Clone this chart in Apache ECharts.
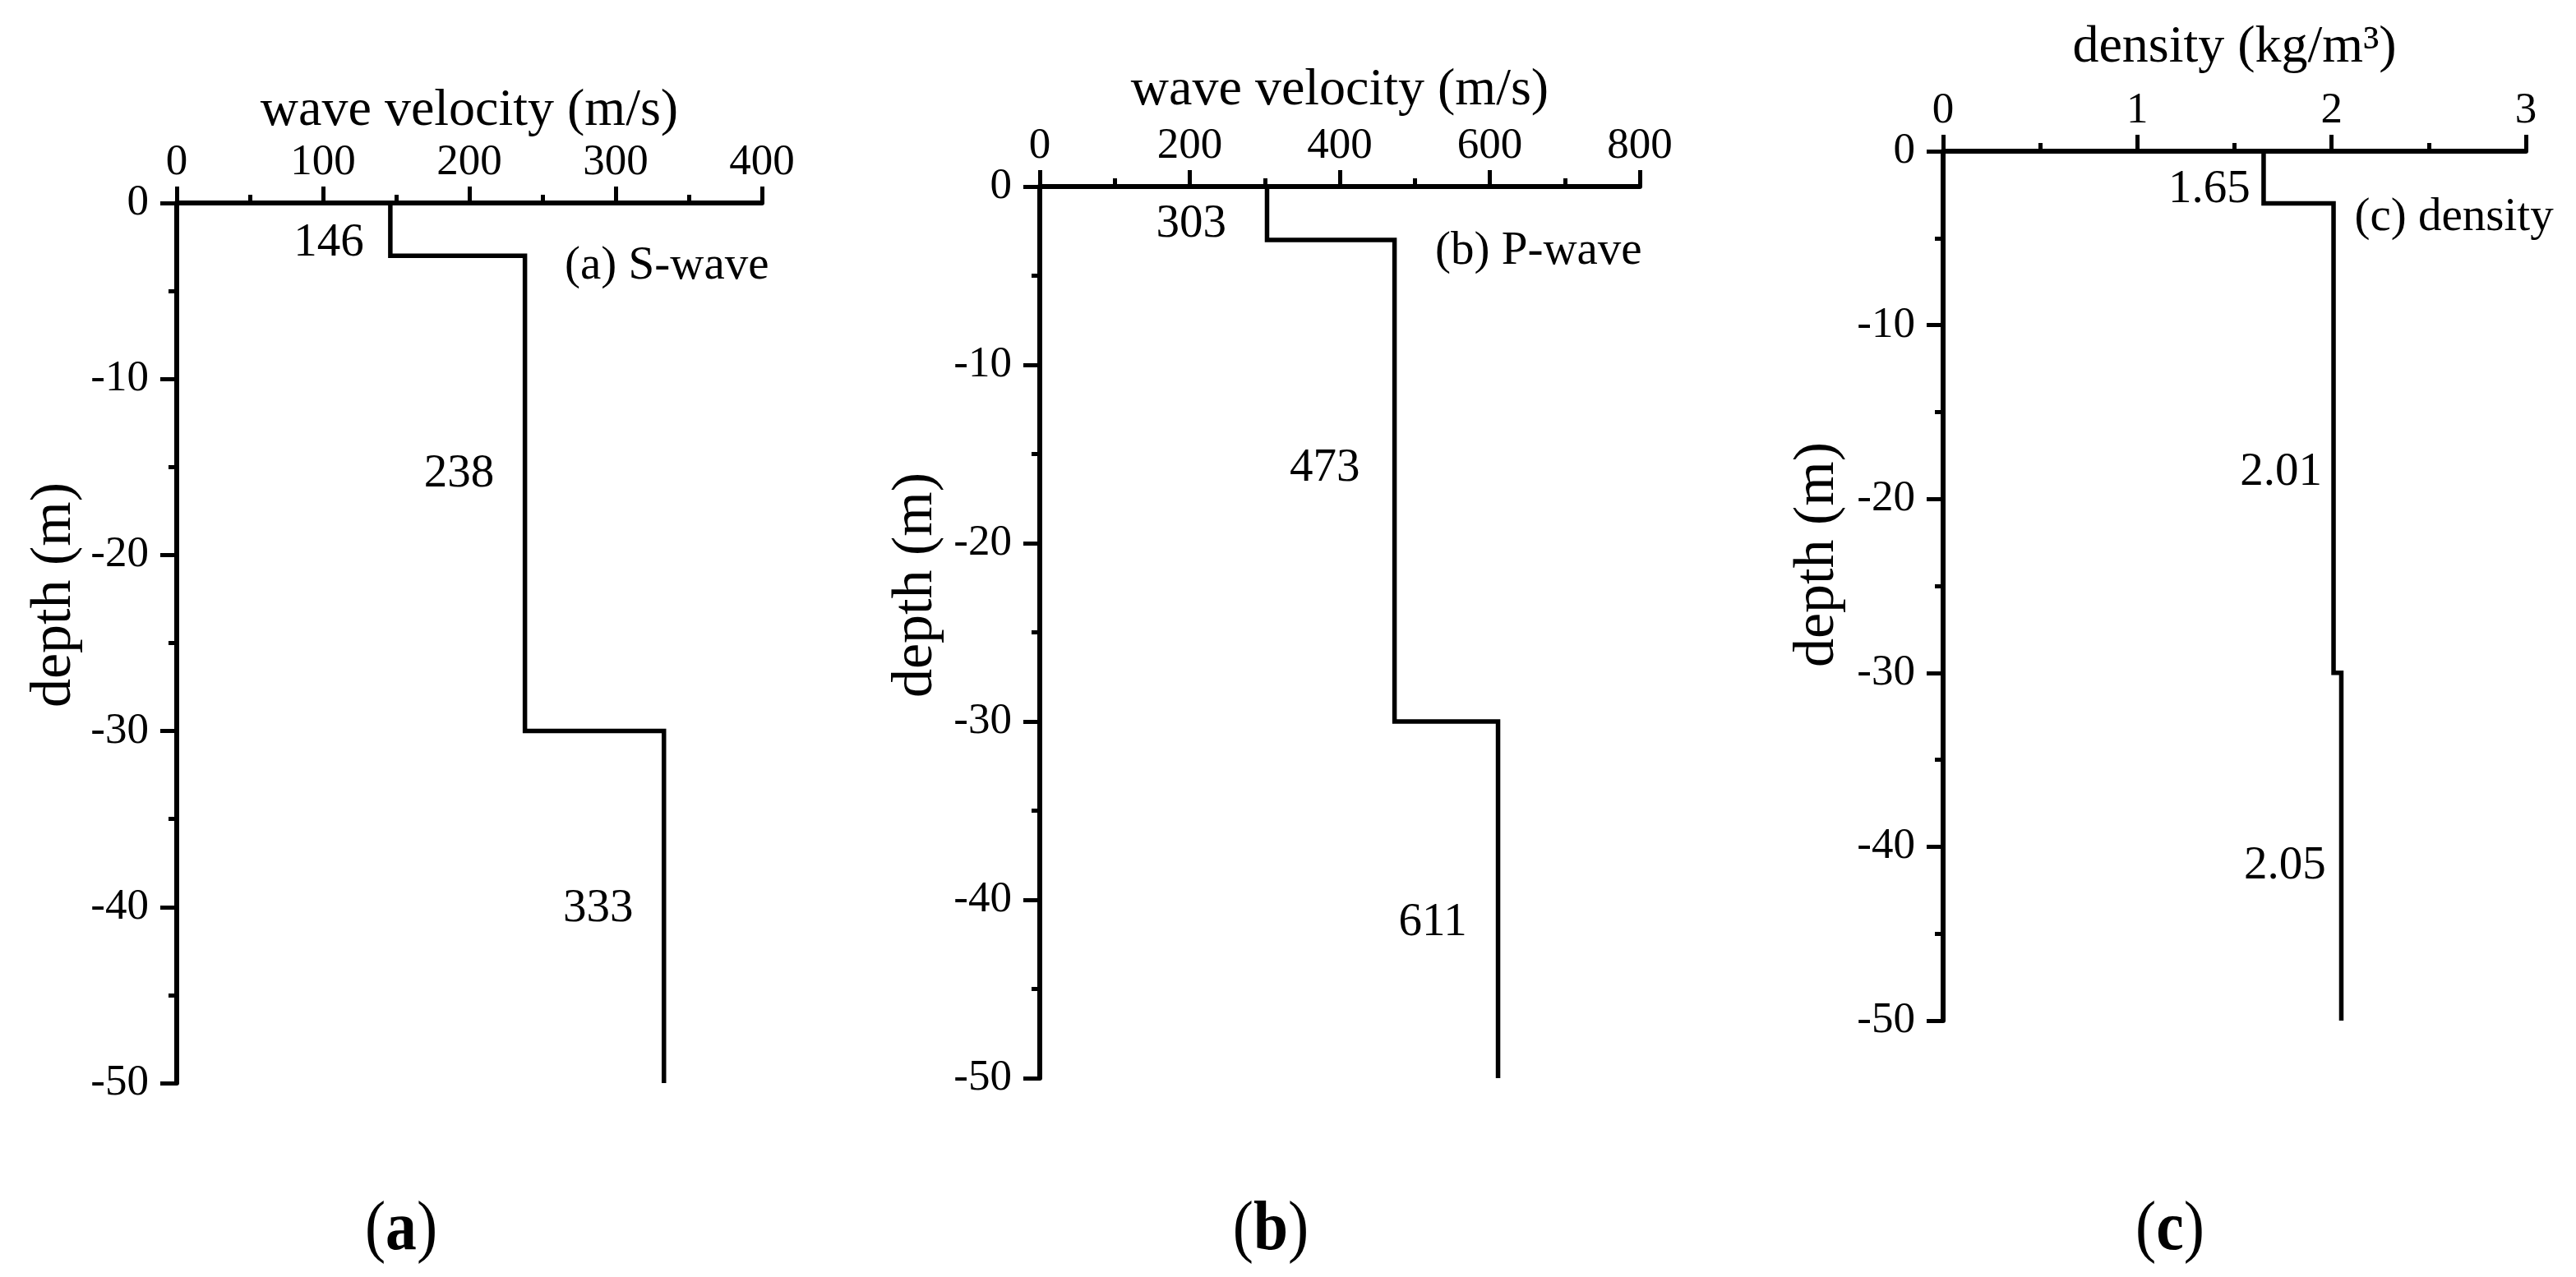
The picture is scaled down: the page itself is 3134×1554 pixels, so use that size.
<!DOCTYPE html>
<html><head><meta charset="utf-8">
<script src="https://cdn.jsdelivr.net/npm/echarts@6/dist/echarts.min.js"></script>
<style>html,body{margin:0;padding:0;background:#fff}#c{width:3134px;height:1554px}</style>
</head><body><div id="c"></div>
<script>
// ---- data ----
const layerTop = [0, -3, -30];
const layerBottom = [-3, -30, -50];
const sWave = [146, 238, 333];
const pWave = [303, 473, 611];
const density = [1.65, 2.01, 2.05];
const captions = ['(a) S-wave', '(b) P-wave', '(c) density'];
const panelLetters = ['a', 'b', 'c'];
const xTitles = ['wave velocity (m/s)', 'wave velocity (m/s)', 'density (kg/m³)'];
const yTitle = 'depth (m)';
const xMax = [400, 800, 3];
const xInterval = [100, 200, 1];
const depthMin = -50, depthMax = 0, depthInterval = 10;

// ---- label placement (data coordinates of label centres) ----
const valueLabelAnchors = [
  [[104, -2.3], [193, -15.4], [288, -40.1]],
  [[202, -2.1], [380, -15.8], [524, -41.3]],
  [[1.37, -2.2], [1.74, -18.5], [1.76, -41.1]]
];
const captionAnchors = [[335, -3.6], [665, -3.64], [2.63, -3.83]];

// ---- layout ----
const grids = [
  {left: 215, top: 247, width: 712, height: 1071},
  {left: 1265, top: 227, width: 730, height: 1085},
  {left: 2364, top: 184, width: 709, height: 1058}
];
const xNameGap = [77, 85, 94];
const yTitlePos = [[67, 724], [1115, 712], [2212, 675]];
const bottomLabelPos = [[488, 1498], [1546, 1498], [2640, 1498]];

const FONT = '"Liberation Serif", "Times New Roman", serif';
const series = [];
const panelValues = [sWave, pWave, density];
const fmt = [v => String(v), v => String(v), v => v.toFixed(2)];

function stepData(values) {
  const d = [];
  values.forEach((v, i) => { d.push([v, layerTop[i]]); d.push([v, layerBottom[i]]); });
  return d;
}

const xAxes = [], yAxes = [];
for (let p = 0; p < 3; p++) {
  xAxes.push({
    gridIndex: p, type: 'value', position: 'top', min: 0, max: xMax[p], interval: xInterval[p],
    name: xTitles[p], nameLocation: 'middle', nameGap: xNameGap[p],
    nameTextStyle: {fontFamily: FONT, fontSize: 64, color: '#000'},
    axisLine: {show: true, onZero: false, lineStyle: {color: '#000', width: 6}},
    axisTick: {show: true, inside: false, length: 20, lineStyle: {color: '#000', width: 5}},
    minorTick: {show: true, splitNumber: 2, length: 10, lineStyle: {color: '#000', width: 5}},
    axisLabel: {fontFamily: FONT, fontSize: 53, color: '#000', margin: 22, showMinLabel: true, showMaxLabel: true},
    splitLine: {show: false}
  });
  yAxes.push({
    gridIndex: p, type: 'value', position: 'left', min: depthMin, max: depthMax, interval: depthInterval,
    axisLine: {show: true, onZero: false, lineStyle: {color: '#000', width: 6}},
    axisTick: {show: true, inside: false, length: 20, lineStyle: {color: '#000', width: 5}},
    minorTick: {show: true, splitNumber: 2, length: 10, lineStyle: {color: '#000', width: 5}},
    axisLabel: {fontFamily: FONT, fontSize: 53, color: '#000', margin: 34, showMinLabel: true, showMaxLabel: true},
    splitLine: {show: false}
  });
  series.push({
    type: 'line', xAxisIndex: p, yAxisIndex: p, data: stepData(panelValues[p]),
    showSymbol: false, symbol: 'none', clip: false, animation: false,
    lineStyle: {color: '#000', width: 5.5, join: 'miter', cap: 'butt'}
  });
  const labelData = panelValues[p].map((v, i) => ({
    value: [valueLabelAnchors[p][i][0], valueLabelAnchors[p][i][1]], name: fmt[p](v)
  }));
  labelData.push({value: captionAnchors[p], name: captions[p]});
  series.push({
    type: 'scatter', xAxisIndex: p, yAxisIndex: p, data: labelData,
    symbol: 'circle', symbolSize: 0, itemStyle: {color: '#000', opacity: 1},
    silent: true, animation: false, clip: false,
    label: {show: true, position: 'inside', formatter: d => d.name, opacity: 1,
      fontFamily: FONT, fontSize: 57, color: '#000', textBorderWidth: 0}
  });
}

const graphic = [];
yTitlePos.forEach(([x, y]) => {
  graphic.push({type: 'text', x: x, y: y, rotation: Math.PI / 2,
    style: {text: yTitle, fontFamily: FONT, fontSize: 70, fill: '#000', align: 'center', verticalAlign: 'middle'}});
});
bottomLabelPos.forEach(([x, y], i) => {
  graphic.push({type: 'text', x: x, y: y, scaleX: 0.9,
    style: {text: '{n|(}{b|' + panelLetters[i] + '}{n|)}', align: 'center', verticalAlign: 'middle',
      rich: {n: {fontFamily: FONT, fontSize: 84, fill: '#000'}, b: {fontFamily: FONT, fontSize: 84, fontWeight: 'bold', fill: '#000'}}}});
});

const chart = echarts.init(document.getElementById('c'), null, {renderer: 'canvas'});
chart.setOption({
  backgroundColor: '#fff', animation: false,
  grid: grids, xAxis: xAxes, yAxis: yAxes, series: series, graphic: graphic
});
</script></body></html>
